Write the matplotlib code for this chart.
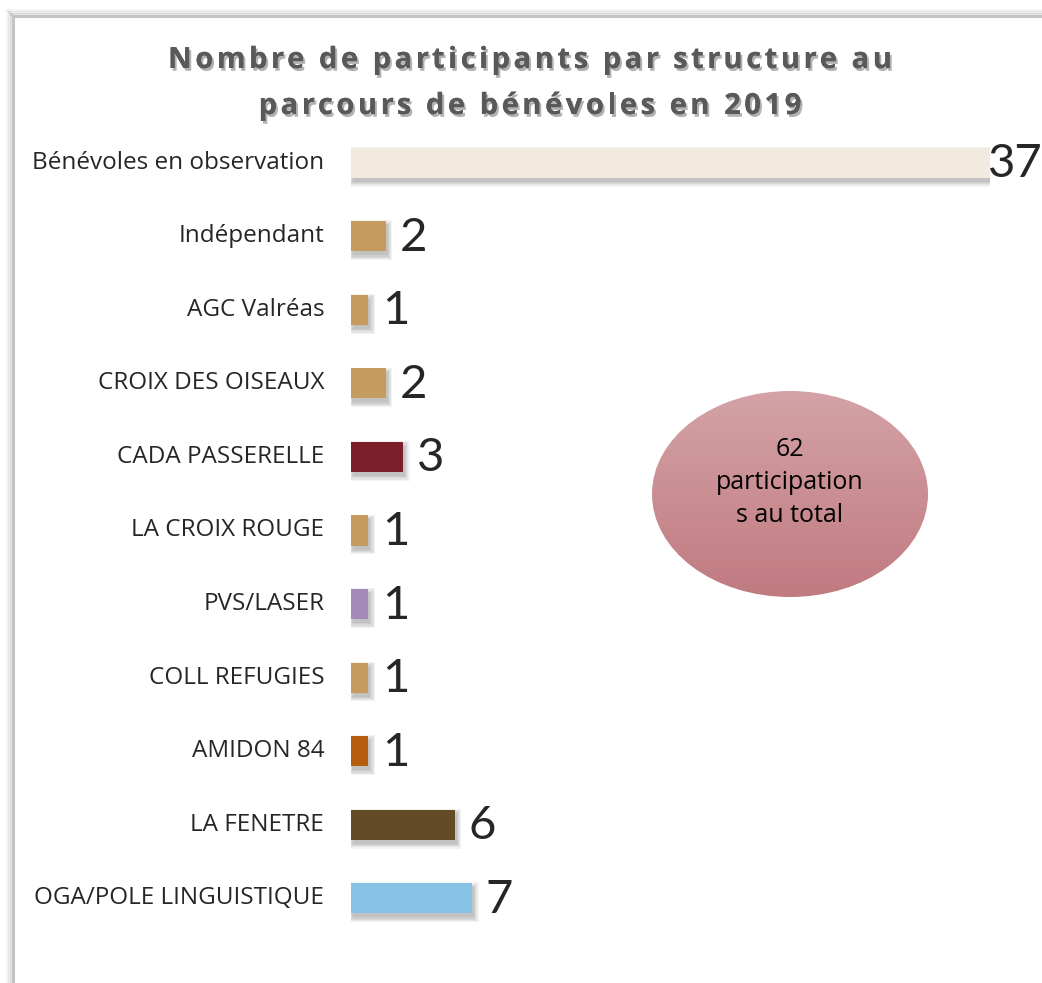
import matplotlib
matplotlib.use("Agg")
import matplotlib.pyplot as plt
import numpy as np
from matplotlib.patches import Rectangle, Ellipse
import matplotlib.patheffects as pe
from matplotlib.colors import LinearSegmentedColormap

categories = ["Bénévoles en observation", "Indépendant", "AGC Valréas",
              "CROIX DES OISEAUX", "CADA PASSERELLE", "LA CROIX ROUGE",
              "PVS/LASER", "COLL REFUGIES", "AMIDON 84", "LA FENETRE",
              "OGA/POLE LINGUISTIQUE"]
values = [37, 2, 1, 2, 3, 1, 1, 1, 1, 6, 7]
colors = ["#f2eadf", "#c59b5e", "#c59b5e", "#c59b5e", "#7a1e29", "#c59b5e",
          "#a58ab8", "#c59b5e", "#b65d0d", "#634b26", "#88c2e7"]
title_lines = ["Nombre de participants par structure au",
               "parcours de bénévoles en 2019"]
total_text = "62\nparticipation\ns au total"

W, H = 1042, 983
fig = plt.figure(figsize=(W / 100, H / 100), dpi=100)
fig.patch.set_facecolor("white")

# frame with soft shadow (top and left edges)
for i, a in enumerate([0.04, 0.07, 0.10]):
    off = (3 - i) * 2
    fig.add_artist(plt.Line2D([(13 - off) / W, (13 - off) / W], [0, (H - 16 + off) / H],
                              color="#000000", alpha=a, lw=2, transform=fig.transFigure))
    fig.add_artist(plt.Line2D([(13 - off) / W, 1], [(H - 16 + off) / H, (H - 16 + off) / H],
                              color="#000000", alpha=a, lw=2, transform=fig.transFigure))
fig.add_artist(plt.Line2D([13 / W, 13 / W], [0, (H - 16) / H], color="#c4c4c4", lw=2.2,
                          transform=fig.transFigure))
fig.add_artist(plt.Line2D([13 / W, 1], [(H - 16) / H, (H - 16) / H], color="#c4c4c4", lw=2.2,
                          transform=fig.transFigure))

# axes
x0, x1 = 351, 990
y_top, y_bot = 126, 935
ax = fig.add_axes([x0 / W, 1 - y_bot / H, (x1 - x0) / W, (y_bot - y_top) / H])
ax.set_xlim(0, 37)
n = len(categories)
ax.set_ylim(n - 0.5, -0.5)
ax.axis("off")

pxx = 37 / (x1 - x0)
pxy = n / (y_bot - y_top)

ypos = np.arange(n)
bh = 0.41
# soft shadows
for yy, v in zip(ypos, values):
    for k in range(5):
        s = k * 1.2
        ax.add_patch(Rectangle(((2 - s) * pxx, yy - bh / 2 + (4 - s) * pxy),
                               v + 2 * s * pxx, bh + 2 * s * pxy,
                               color="black", alpha=0.05, lw=0, zorder=1))
ax.barh(ypos, values, height=bh, color=colors, zorder=3)

for yy, v, c in zip(ypos, values, categories):
    ax.text(v + 0.8 if v < 30 else v - 0.1, yy + 0.02, str(v), va="center", ha="left",
            fontsize=34, family="Lato", color="#262626", clip_on=False, zorder=5)
    ax.text(-1.55, yy, c, va="center", ha="right", fontsize=17.5, family="Open Sans",
            color="#262626", clip_on=False)

# title with letter spacing, char by char
renderer = fig.canvas.get_renderer()
tkw = dict(fontsize=21, family="Open Sans", weight="bold")


def adv(ch):
    t1 = fig.text(0, 0, "a" + ch + "a", **tkw)
    t2 = fig.text(0, 0, "aa", **tkw)
    w = t1.get_window_extent(renderer).width - t2.get_window_extent(renderer).width
    t1.remove()
    t2.remove()
    return w


widths = [[adv(ch) for ch in line] for line in title_lines]
target_w = 724
spacing = (target_w - sum(widths[0])) / (len(title_lines[0]) - 1)
shadow = [pe.withSimplePatchShadow(offset=(1.5, -2), shadow_rgbFace="#000000", alpha=0.3),
          pe.Normal()]
for line, ws, base_y in zip(title_lines, widths, [68, 114]):
    total = sum(ws) + spacing * (len(line) - 1)
    x = 530 - total / 2
    for ch, w in zip(line, ws):
        if ch != " ":
            fig.text(x / W, 1 - base_y / H, ch, ha="left", va="baseline", color="#595959",
                     path_effects=shadow, **tkw)
        x += w + spacing

# ellipse with gradient
ex, ey, ew, eh = 790, 494, 276, 206
eax = fig.add_axes([(ex - ew / 2 - 2) / W, 1 - (ey + eh / 2 + 2) / H, (ew + 4) / W, (eh + 4) / H])
eax.set_xlim(0, 1)
eax.set_ylim(0, 1)
eax.axis("off")
grad = np.linspace(0, 1, 256).reshape(-1, 1)
cmap = LinearSegmentedColormap.from_list("g", ["#c07a80", "#d4a3a7"])
im = eax.imshow(grad, extent=[0, 1, 0, 1], origin="lower", cmap=cmap, aspect="auto")
ell = Ellipse((0.5, 0.5), ew / (ew + 4), eh / (eh + 4), transform=eax.transAxes,
              facecolor="none", edgecolor="none")
eax.add_patch(ell)
im.set_clip_path(ell)
eax.text(0.5, 0.555, total_text, ha="center", va="center", fontsize=18,
         family="Open Sans", color="#000000", linespacing=1.4)

fig.savefig("out.png", dpi=100)
